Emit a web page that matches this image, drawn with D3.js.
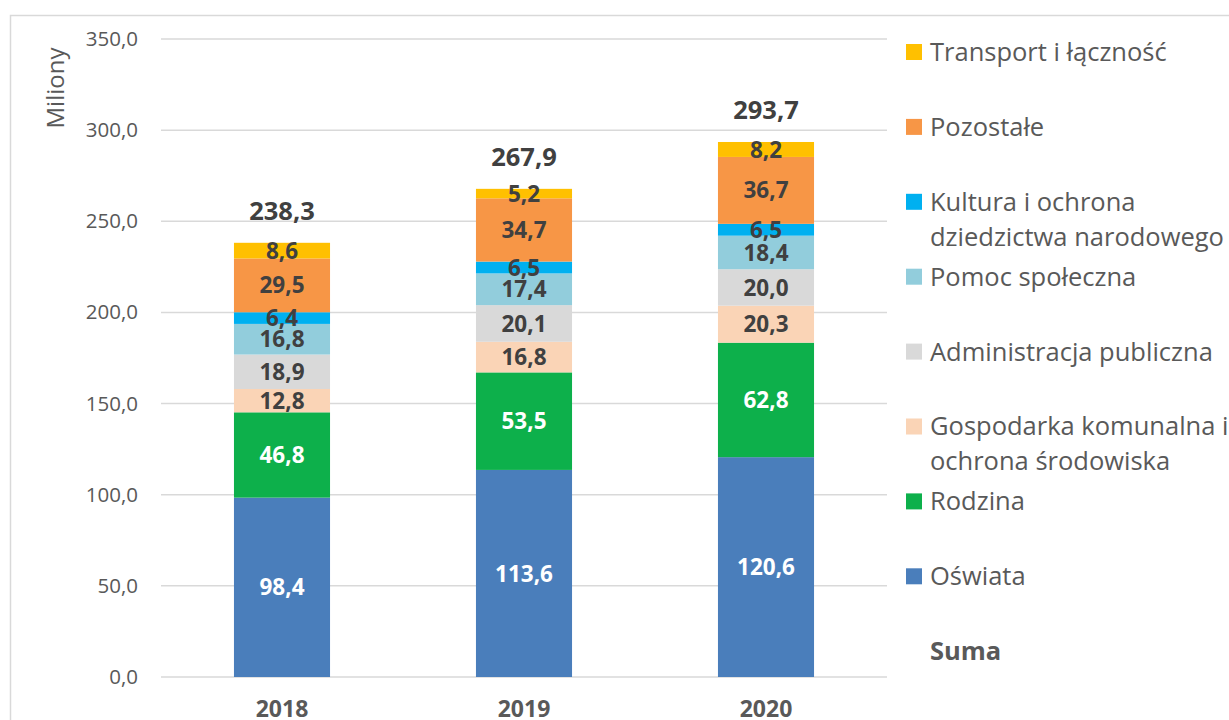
<!doctype html>
<html lang="pl">
<head>
  <meta charset="utf-8">
  <title>Wydatki wg działów 2018-2020</title>
  <style>
body { margin: 0; background: #fff; }
svg { font-family: "Open Sans", sans-serif; }
.grid line { stroke: #d9d9d9; stroke-width: 1.5; }
.axis text { fill: #595959; }
.seg-label { font-weight: bold; }
  </style>
</head>
<body>
  <script src="https://d3js.org/d3.v7.min.js"></script>
  <script>
// data (miliony)
var years = ["2018", "2019", "2020"];
var categories = ["Oświata", "Rodzina", "Gospodarka komunalna i ochrona środowiska",
  "Administracja publiczna", "Pomoc społeczna", "Kultura i ochrona dziedzictwa narodowego",
  "Pozostałe", "Transport i łączność"];
var oswiata        = [98.4, 113.6, 120.6];
var rodzina        = [46.8, 53.5, 62.8];
var gospodarka     = [12.8, 16.8, 20.3];
var administracja  = [18.9, 20.1, 20.0];
var pomoc          = [16.8, 17.4, 18.4];
var kultura        = [6.4, 6.5, 6.5];
var pozostale      = [29.5, 34.7, 36.7];
var transport      = [8.6, 5.2, 8.2];
var suma           = [238.3, 267.9, 293.7];
var yTicks = [0, 50, 100, 150, 200, 250, 300, 350];

var series = [oswiata, rodzina, gospodarka, administracja, pomoc, kultura, pozostale, transport];
var colors = ["#4a7ebb", "#0db04b", "#fad4b6", "#d9d9d9", "#92cddc", "#00b0f0", "#f79646", "#ffc000"];
var labelColors = ["#fff", "#fff", "#404040", "#404040", "#404040", "#404040", "#404040", "#404040"];
// legend lines (top to bottom, as in the picture)
var legendLines = [
  ["Transport i łączność"],
  ["Pozostałe"],
  ["Kultura i ochrona", "dziedzictwa narodowego"],
  ["Pomoc społeczna"],
  ["Administracja publiczna"],
  ["Gospodarka komunalna i", "ochrona środowiska"],
  ["Rodzina"],
  ["Oświata"]
];

var W = 1229, H = 720;
var plot = {left: 161, right: 887, top: 39, bottom: 677};

var pl = d3.formatLocale({decimal: ",", thousands: " ", grouping: [3], currency: ["", " zł"]});
var fmt = pl.format(".1f");

var table = years.map(function(y, i) {
  var row = {year: y};
  categories.forEach(function(c, k) { row[c] = series[k][i]; });
  return row;
});
var stacked = d3.stack().keys(categories)(table);

var x = d3.scaleBand()
    .domain(years)
    .range([plot.left, plot.right])
    .paddingInner(0.603)
    .paddingOuter(0.3015);
var y = d3.scaleLinear()
    .domain([0, 350])
    .range([plot.bottom, plot.top]);

var svg = d3.select("body").append("svg")
    .attr("width", W)
    .attr("height", H);

// chart frame
svg.append("rect")
    .attr("x", 10.5).attr("y", 15.5)
    .attr("width", W + 20).attr("height", H + 20)
    .attr("fill", "none")
    .attr("stroke", "#d9d9d9")
    .attr("stroke-width", 1.5);

// gridlines
svg.append("g")
    .attr("class", "grid")
    .selectAll("line")
    .data(yTicks)
    .enter().append("line")
    .attr("x1", plot.left).attr("x2", plot.right)
    .attr("y1", function(d) { return y(d); })
    .attr("y2", function(d) { return y(d); });

// y axis labels
var yAxis = d3.axisLeft(y).tickValues(yTicks).tickFormat(fmt).tickSize(0).tickPadding(23);
svg.append("g")
    .attr("class", "axis y")
    .attr("transform", "translate(" + plot.left + ",0)")
    .call(yAxis)
    .call(function(g) { g.select(".domain").remove(); })
    .selectAll("text")
    .attr("font-size", 20.5)
    .attr("font-family", "Open Sans");

svg.append("text")
    .attr("transform", "translate(64,88) rotate(-90)")
    .attr("text-anchor", "middle")
    .attr("fill", "#595959")
    .attr("font-size", 24)
    .text("Miliony");

// x axis labels
var xAxis = d3.axisBottom(x).tickSize(0).tickPadding(24);
svg.append("g")
    .attr("class", "axis x")
    .attr("transform", "translate(0," + plot.bottom + ")")
    .call(xAxis)
    .call(function(g) { g.select(".domain").remove(); })
    .selectAll("text")
    .attr("font-size", 23)
    .attr("font-weight", "bold")
    .attr("font-family", "Open Sans");

// bars
var layer = svg.selectAll(".layer")
    .data(stacked)
    .enter().append("g")
    .attr("class", "layer")
    .attr("fill", function(d, k) { return colors[k]; });

layer.selectAll("rect")
    .data(function(d) { return d; })
    .enter().append("rect")
    .attr("x", function(d) { return x(d.data.year); })
    .attr("width", x.bandwidth())
    .attr("y", function(d) { return y(d[1]); })
    .attr("height", function(d) { return y(d[0]) - y(d[1]); });

// segment labels
var labels = svg.selectAll(".labels")
    .data(stacked)
    .enter().append("g")
    .attr("class", "labels");

labels.selectAll("text")
    .data(function(d, k) { return d.map(function(p) { return {p: p, k: k}; }); })
    .enter().append("text")
    .attr("class", "seg-label")
    .attr("x", function(d) { return x(d.p.data.year) + x.bandwidth() / 2; })
    .attr("y", function(d) { return (y(d.p[0]) + y(d.p[1])) / 2; })
    .attr("dy", "0.36em")
    .attr("text-anchor", "middle")
    .attr("font-size", 22.5)
    .attr("fill", function(d) { return labelColors[d.k]; })
    .text(function(d) { return fmt(d.p[1] - d.p[0]); });

// totals above the bars
var topLayer = stacked[stacked.length - 1];
svg.selectAll(".total")
    .data(suma)
    .enter().append("text")
    .attr("class", "total")
    .attr("x", function(d, i) { return x(years[i]) + x.bandwidth() / 2; })
    .attr("y", function(d, i) { return y(topLayer[i][1]) - 23; })
    .attr("text-anchor", "middle")
    .attr("font-size", 25.5)
    .attr("font-weight", "bold")
    .attr("fill", "#404040")
    .text(function(d) { return fmt(d); });

// legend
var legendColors = colors.slice().reverse();
var legend = svg.append("g").attr("class", "legend");
var item = legend.selectAll("g")
    .data(legendLines)
    .enter().append("g")
    .attr("transform", function(d, i) { return "translate(906," + (52 + i * 74.9) + ")"; });

item.append("rect")
    .attr("x", 0).attr("y", -8)
    .attr("width", 16).attr("height", 16)
    .attr("fill", function(d, i) { return legendColors[i]; });

item.selectAll("text")
    .data(function(d) { return d; })
    .enter().append("text")
    .attr("x", 24)
    .attr("y", function(d, j) { return j * 35; })
    .attr("dy", "0.35em")
    .attr("font-size", 25.5)
    .attr("fill", "#595959")
    .text(function(d) { return d; });

legend.append("text")
    .attr("x", 930)
    .attr("y", 52 + 8 * 74.9)
    .attr("dy", "0.35em")
    .attr("font-size", 25.5)
    .attr("font-weight", "bold")
    .attr("fill", "#595959")
    .text("Suma");
  </script>
</body>
</html>
